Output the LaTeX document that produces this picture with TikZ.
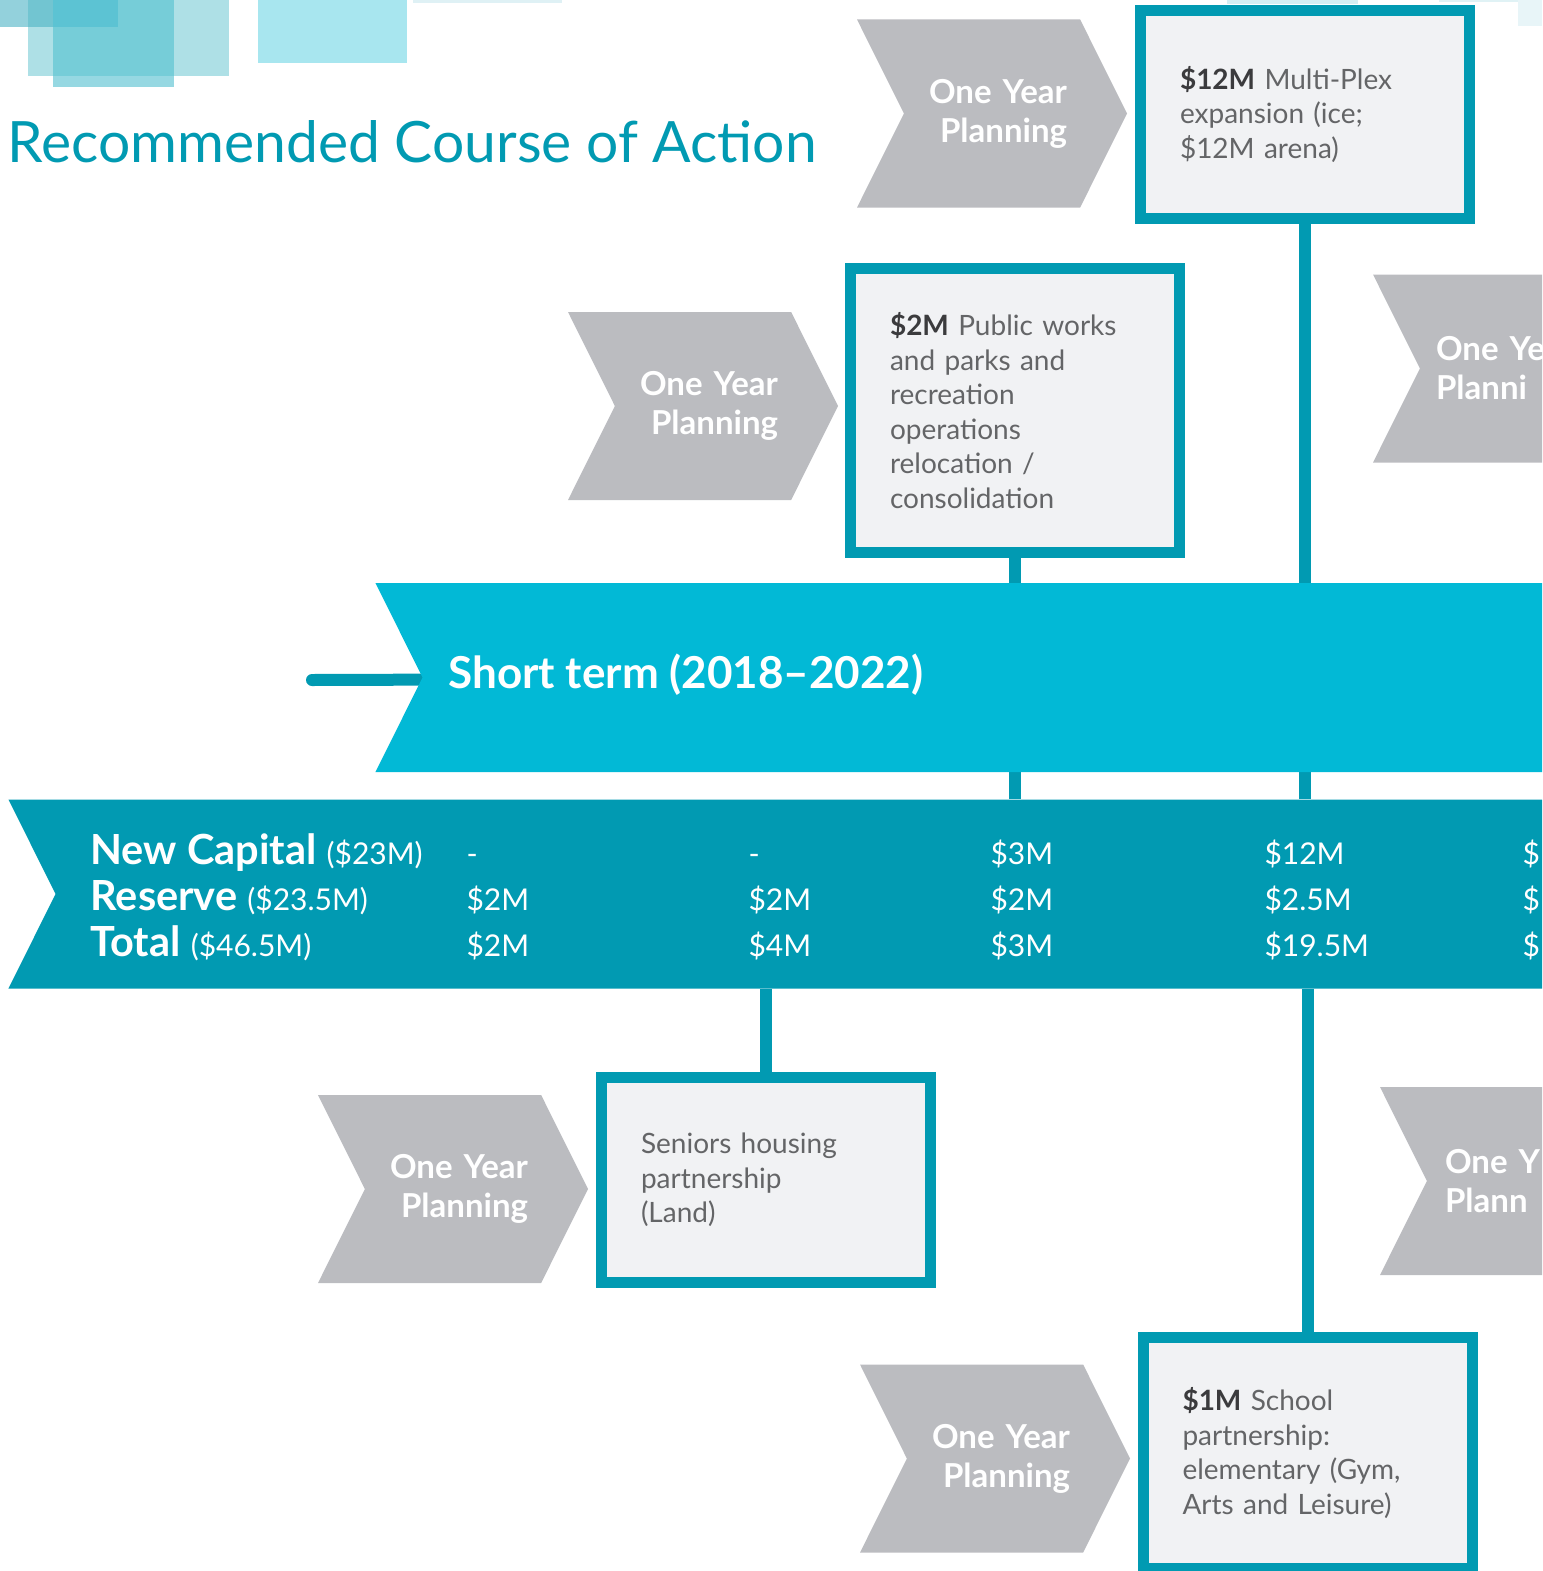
\documentclass[tikz,border=0pt]{standalone}
\usepackage{fontspec}
\setmainfont{Lato}
\usetikzlibrary{shapes.symbols,backgrounds}
\definecolor{bandteal}{HTML}{019AB2}
\definecolor{shortcyan}{HTML}{02B9D6}
\definecolor{chevgray}{HTML}{BBBCC0}
\definecolor{boxfill}{HTML}{F1F2F4}
\definecolor{boxtext}{HTML}{646567}
\definecolor{amttext}{HTML}{3B3B3D}
\newcommand{\amt}[1]{{\bfseries\color{amttext}#1}}
\tikzset{%
  chevron/.style={shape=signal,signal from=west,signal to=east,signal pointer angle=127,
    fill=chevgray,minimum width=270,minimum height=188,inner sep=0,text=white,
    text width=150,align=right,font=\fontsize{33}{39}\selectfont\bfseries},
  band/.style={shape=signal,signal from=west,signal to=nowhere,signal pointer angle=127,
    minimum height=189,inner sep=0},
  planbox/.style={draw=bandteal,line width=11,fill=boxfill,minimum width=329,inner sep=0,
    text width=250,align=left,text=boxtext,font=\fontsize{28}{34.5}\selectfont},
  stem/.style={draw=bandteal,line width=12},
  rowlab/.style={anchor=base west,text=white,font=\fontsize{41.5}{46}\selectfont\bfseries},
  val/.style={anchor=base west,text=white,font=\fontsize{30}{36}\selectfont}
}
\begin{document}
\begin{tikzpicture}[x=1pt,y=-1pt]
  \useasboundingbox (0,0) rectangle (1542,1571);
  \clip (0,0) rectangle (1542,1571);
  % corner tiles
  \fill[fill={rgb,255:red,174;green,224;blue,230}] (28,0) rectangle (229,76);
  \fill[fill={rgb,255:red,150;green,216;blue,226}] (53,0) rectangle (174,87);
  \fill[fill={rgb,255:red,118;green,205;blue,216}] (53,0) rectangle (174,76);
  \fill[fill={rgb,255:red,147;green,209;blue,220}] (0,0) rectangle (118,27);
  \fill[fill={rgb,255:red,114;green,197;blue,209}] (28,0) rectangle (118,27);
  \fill[fill={rgb,255:red,92;green,195;blue,211}] (53,0) rectangle (118,27);
  \fill[fill={rgb,255:red,168;green,230;blue,239}] (258,0) rectangle (407,63);
  \fill[fill={rgb,255:red,223;green,241;blue,245}] (413,0) rectangle (562,3);
  \fill[fill={rgb,255:red,213;green,238;blue,243}] (1227,0) rectangle (1358,4);
  \fill[fill={rgb,255:red,224;green,242;blue,245}] (1439,0) rectangle (1542,2);
  \fill[fill={rgb,255:red,232;green,245;blue,248}] (1518,0) rectangle (1542,26);

  \node[anchor=base west,text=bandteal,font=\fontsize{57}{60}\selectfont] (title) at (4,162)
    {Recommended Course of Action};

  % bands
  \node[band,fill=shortcyan,minimum width=1400] (shortband) at (1099,677.5) {};
  \node[anchor=base west,text=white,font=\fontsize{44}{50}\selectfont\bfseries] (shortlab)
    at (445,688) {Short term (2018--2022)};
  \node[band,fill=bandteal,minimum width=1700] (capband) at (882,894) {};
  \node[rowlab] (newcap) at (87,864) {New Capital {\fontsize{30}{36}\selectfont\mdseries(\$23M)}};
  \node[rowlab] (reserve) at (87,910) {Reserve {\fontsize{30}{36}\selectfont\mdseries(\$23.5M)}};
  \node[rowlab] (total) at (87,956) {Total {\fontsize{30}{36}\selectfont\mdseries(\$46.5M)}};
  \foreach \x/\a/\b/\c [count=\i] in {463/-/\$2M/\$2M,745/-/\$2M/\$4M,987/\$3M/\$2M/\$3M,
      1261/\$12M/\$2.5M/\$19.5M,1519/\$/\$/\$}{
    \node[val] (cap\i) at (\x,864) {\a};
    \node[val] (res\i) at (\x,910) {\b};
    \node[val] (tot\i) at (\x,956) {\c};
  }

  % planning chevrons
  \node[chevron] (plan1) at (992,113.5) {One Year\\Planning};
  \node[chevron] (plan2) at (703,406) {One Year\\Planning};
  \node[chevron,text width=144,align=left] (plan3) at (1508,368.5) {One Ye\\Planni};
  \node[chevron,text width=140,align=left] (plan5) at (1515,1181) {One Y\\Plann};
  \node[chevron] (plan4) at (453,1189) {One Year\\Planning};
  \node[chevron] (plan6) at (995,1458.5) {One Year\\Planning};

  % project boxes
  \node[planbox,minimum height=208] (multiplex) at (1305,114.5)
    {\amt{\$12M} Multi-Plex\\expansion (ice;\\\$12M arena)};
  \node[planbox,minimum height=284] (works) at (1015,410.5)
    {\amt{\$2M} Public works\\and parks and\\recreation\\operations\\relocation /\\consolidation};
  \node[planbox,minimum height=205] (seniors) at (766,1180)
    {Seniors housing\\partnership\\(Land)};
  \node[planbox,minimum height=231] (school) at (1307.5,1453)
    {\amt{\$1M} School\\partnership:\\elementary (Gym,\\Arts and Leisure)};

  \coordinate (start) at (312,680);
  \begin{pgfonlayer}{background}
    \draw[stem,line cap=round] (start) -- (shortband.center);
    \draw[stem] (multiplex.south) -- (multiplex.south |- capband.north);
    \draw[stem] (works.south) -- (works.south |- capband.north);
    \draw[stem] (capband.south -| seniors.north) -- (seniors.north);
    \draw[stem] (capband.south -| school.north) -- (school.north);
  \end{pgfonlayer}
\end{tikzpicture}
\end{document}
